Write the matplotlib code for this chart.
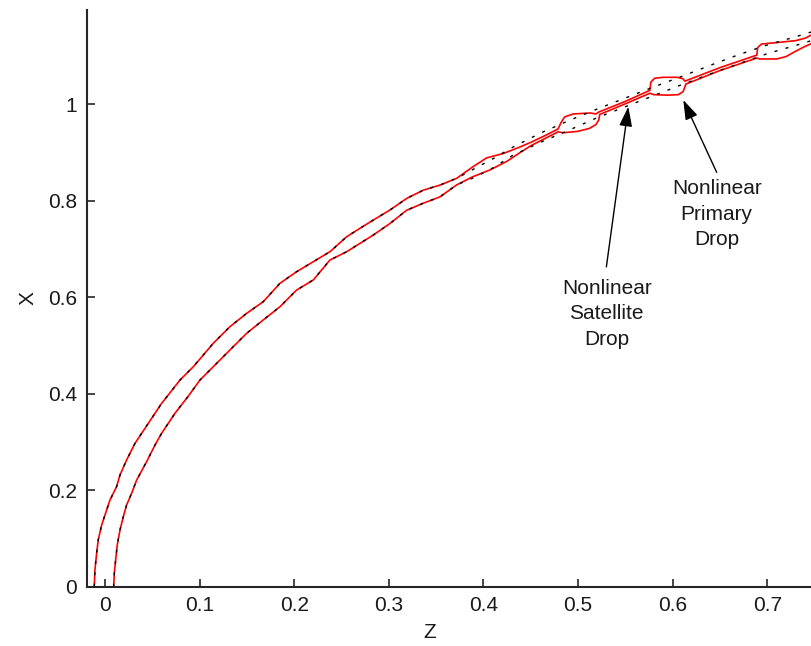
import numpy as np
import matplotlib
matplotlib.use('Agg')
import matplotlib.pyplot as plt

plt.rcParams['font.family'] = ['Liberation Sans', 'DejaVu Sans']

# jet surface, common part of the nonlinear and linear solutions (z, x)
body_upper_z = [-0.0113, -0.0106, -0.0088, -0.0071, -0.0035, 0.0018, 0.0053, 0.0123,
                0.0159, 0.0229, 0.0317, 0.0388, 0.0529, 0.0599, 0.0793, 0.0934,
                0.1145, 0.1321, 0.1498, 0.1673, 0.1850, 0.2026, 0.2202, 0.2378,
                0.2555, 0.2696, 0.2836, 0.3013, 0.3190, 0.3365, 0.3540, 0.3718]
body_upper_x = [0.0, 0.0346, 0.0692, 0.0968, 0.1279, 0.159, 0.1797, 0.2073,
                0.2316, 0.2627, 0.297, 0.318, 0.3595, 0.380, 0.4284, 0.456,
                0.5046, 0.539, 0.5667, 0.5908, 0.629, 0.653, 0.6737, 0.6944,
                0.7255, 0.743, 0.760, 0.781, 0.805, 0.822, 0.8325, 0.8466]

body_lower_z = [0.0092, 0.0099, 0.0113, 0.0130, 0.0159, 0.0194, 0.0229, 0.0282,
                0.0335, 0.0440, 0.0529, 0.0599, 0.0740, 0.0881, 0.1004, 0.1145,
                0.1321, 0.1498, 0.1673, 0.1850, 0.2026, 0.2202, 0.2378, 0.2555,
                0.2696, 0.2836, 0.3013, 0.3190, 0.3365, 0.3540, 0.3718]
body_lower_x = [0.0, 0.0278, 0.0553, 0.0864, 0.1175, 0.1451, 0.1694, 0.1936,
                0.2212, 0.259, 0.2937, 0.318, 0.3595, 0.395, 0.4284, 0.456,
                0.4907, 0.5253, 0.5529, 0.5804, 0.615, 0.6358, 0.6772, 0.6944,
                0.7118, 0.729, 0.753, 0.7805, 0.795, 0.808, 0.833]

# nonlinear tail: thread with satellite and primary drops
nl_upper_z = [0.3718, 0.389, 0.4035, 0.421, 0.438, 0.450, 0.465, 0.479,
              0.482, 0.486, 0.495, 0.513, 0.519, 0.522, 0.550, 0.576,
              0.577, 0.581, 0.590, 0.605, 0.611, 0.613, 0.650, 0.689,
              0.690, 0.694, 0.710, 0.730, 0.740, 0.748]
nl_upper_x = [0.8466, 0.8706, 0.889, 0.898, 0.911, 0.921, 0.935, 0.949,
              0.962, 0.974, 0.980, 0.982, 0.980, 0.984, 1.006, 1.029,
              1.046, 1.054, 1.056, 1.056, 1.053, 1.048, 1.076, 1.102,
              1.118, 1.125, 1.128, 1.132, 1.137, 1.145]

nl_lower_z = [0.3718, 0.389, 0.407, 0.425, 0.438, 0.450, 0.465, 0.479,
              0.484, 0.500, 0.512, 0.519, 0.522, 0.523, 0.550, 0.576,
              0.580, 0.595, 0.606, 0.611, 0.613, 0.614, 0.650, 0.689,
              0.692, 0.710, 0.720, 0.730, 0.740, 0.748]
nl_lower_x = [0.833, 0.850, 0.864, 0.882, 0.899, 0.914, 0.929, 0.943,
              0.941, 0.944, 0.950, 0.958, 0.968, 0.979, 1.001, 1.023,
              1.020, 1.019, 1.020, 1.026, 1.036, 1.042, 1.070, 1.096,
              1.094, 1.094, 1.099, 1.110, 1.120, 1.127]

# linear tail
lin_upper_z = [0.3718, 0.39, 0.41, 0.43, 0.46, 0.49, 0.52, 0.55, 0.58, 0.61,
               0.64, 0.67, 0.70, 0.73, 0.75]
lin_upper_x = [0.8466, 0.866, 0.887, 0.910, 0.940, 0.966, 0.990, 1.013, 1.036, 1.058,
               1.081, 1.103, 1.123, 1.140, 1.152]
lin_lower_z = [0.3718, 0.39, 0.41, 0.43, 0.46, 0.49, 0.52, 0.55, 0.58, 0.61,
               0.64, 0.67, 0.70, 0.73, 0.75]
lin_lower_x = [0.833, 0.848, 0.868, 0.893, 0.921, 0.946, 0.972, 0.995, 1.018, 1.041,
               1.063, 1.084, 1.105, 1.122, 1.134]

x_ticks = [0, 0.1, 0.2, 0.3, 0.4, 0.5, 0.6, 0.7]
y_ticks = [0, 0.2, 0.4, 0.6, 0.8, 1.0]

fig = plt.figure(figsize=(8.11, 6.46), dpi=100)
ax = fig.add_axes([0.1069, 0.0918, 0.8931, 0.8927])

red_upper_z = body_upper_z + nl_upper_z[1:]
red_upper_x = body_upper_x + nl_upper_x[1:]
red_lower_z = body_lower_z + nl_lower_z[1:]
red_lower_x = body_lower_x + nl_lower_x[1:]
ax.plot(red_upper_z, red_upper_x, color='red', lw=1.2)
ax.plot(red_lower_z, red_lower_x, color='red', lw=1.2)

# linear solution as short black dashes on top
dash_upper_z = body_upper_z + lin_upper_z[1:]
dash_upper_x = body_upper_x + lin_upper_x[1:]
dash_lower_z = body_lower_z + lin_lower_z[1:]
dash_lower_x = body_lower_x + lin_lower_x[1:]
ax.plot(dash_upper_z, dash_upper_x, color='black', lw=1.0, linestyle=(0, (2.2, 6.0)))
ax.plot(dash_lower_z, dash_lower_x, color='black', lw=1.0, linestyle=(0, (2.2, 6.0)))

arrow = dict(arrowstyle='-|>,head_length=1.0,head_width=0.33', mutation_scale=12,
             color='black', lw=1.0, shrinkA=0, shrinkB=0)
ax.annotate('', xy=(0.5532, 0.995), xytext=(0.5300, 0.663), arrowprops=arrow)
ax.annotate('', xy=(0.6113, 1.009), xytext=(0.6466, 0.859), arrowprops=arrow)

ax.text(0.5303, 0.5654, 'Nonlinear\nSatellite\nDrop', ha='center', va='center',
        fontsize=15, linespacing=1.44, color='#1a1a1a')
ax.text(0.6466, 0.7726, 'Nonlinear\nPrimary\nDrop', ha='center', va='center',
        fontsize=15, linespacing=1.44, color='#1a1a1a')

ax.set_xlim(-0.0193, 0.7463)
ax.set_ylim(0, 1.1955)
ax.set_xticks(x_ticks)
ax.set_xticklabels(['0', '0.1', '0.2', '0.3', '0.4', '0.5', '0.6', '0.7'])
ax.set_yticks(y_ticks)
ax.set_yticklabels(['0', '0.2', '0.4', '0.6', '0.8', '1'])
ax.tick_params(direction='in', length=6, width=1.2, colors='#262626',
               labelsize=15, labelcolor='#1a1a1a', pad=7)
for side in ['top', 'right']:
    ax.spines[side].set_visible(False)
for side in ['left', 'bottom']:
    ax.spines[side].set_linewidth(1.5)
    ax.spines[side].set_color('#262626')

ax.set_xlabel('Z', fontsize=15, color='#1a1a1a')
ax.set_ylabel('X', fontsize=15, color='#1a1a1a')
ax.xaxis.set_label_coords(0.474, -0.0786)
ax.xaxis.label.set_va('center')
ax.yaxis.set_label_coords(-0.081, 0.5006)
ax.yaxis.label.set_va('center')

fig.savefig('out.png', dpi=100)
